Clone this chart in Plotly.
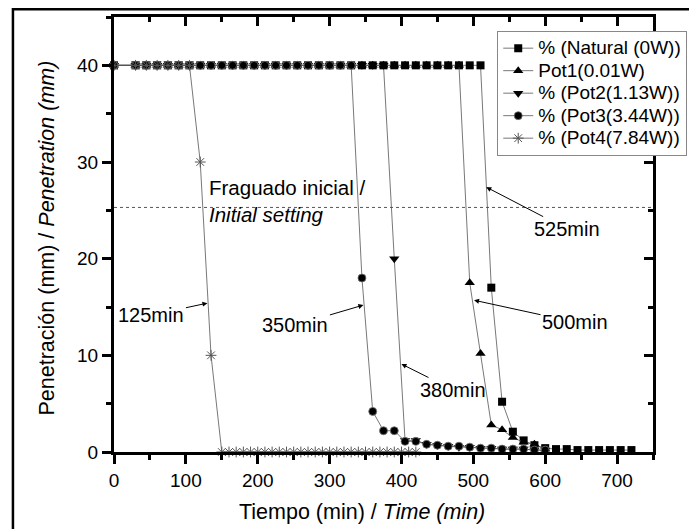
import plotly.graph_objects as go

# ---------------- data ----------------
t_nat = [0, 30, 45, 60, 75, 90, 105, 120, 135, 150, 165, 180, 195, 210, 225, 240, 255, 270, 285, 300,
         315, 330, 345, 360, 375, 390, 405, 420, 435, 450, 465, 480, 495, 510,
         525, 540, 555, 570, 585, 600, 615, 630, 645, 660, 675, 690, 705, 720]
p_nat = [40]*34 + [17, 5.2, 2.1, 1.2, 0.7, 0.4, 0.3, 0.3, 0.2, 0.2, 0.2, 0.2, 0.2, 0.2]

t_pot1 = [0, 30, 45, 60, 75, 90, 105, 120, 135, 150, 165, 180, 195, 210, 225, 240, 255, 270, 285, 300,
          315, 330, 345, 360, 375, 390, 405, 420, 435, 450, 465, 480,
          495, 510, 525, 540, 555, 570, 585, 600]
p_pot1 = [40]*32 + [17.5, 10.2, 2.8, 2.3, 1.5, 1.0, 0.8, 0.3]

t_pot2 = [0, 30, 45, 60, 75, 90, 105, 120, 135, 150, 165, 180, 195, 210, 225, 240, 255, 270, 285, 300,
          315, 330, 345, 360, 375,
          390, 405, 420, 435, 450, 465, 480, 495, 510, 525, 540, 555, 570, 585, 600]
p_pot2 = [40]*25 + [20, 1.2, 1.2, 0.8, 0.7, 0.6, 0.5, 0.5, 0.4, 0.4, 0.3, 0.3, 0.3, 0.2, 0.2]

t_pot3 = [0, 30, 45, 60, 75, 90, 105, 120, 135, 150, 165, 180, 195, 210, 225, 240, 255, 270, 285, 300,
          315, 330,
          345, 360, 375, 390, 405, 420, 435, 450, 465, 480, 495, 510, 525, 540, 555, 570, 585, 600]
p_pot3 = [40]*22 + [18, 4.2, 2.2, 2.2, 1.1, 1.1, 0.8, 0.7, 0.6, 0.6, 0.5, 0.4, 0.4, 0.3, 0.3, 0.3, 0.2, 0.2]

t_pot4 = [0, 30, 45, 60, 75, 90, 105, 120, 135,
          150, 160, 170, 180, 190, 200, 210, 220, 230, 240, 250, 260, 270, 280, 290, 300,
          310, 320, 330, 340, 350, 360, 370, 380, 390, 400, 410, 420]
p_pot4 = [40]*7 + [30, 10] + [0]*28

names = ["% (Natural (0W))", "Pot1(0.01W)", "% (Pot2(1.13W))", "% (Pot3(3.44W))", "% (Pot4(7.84W))"]

setting_level = 25.3
x_ticks = [0, 100, 200, 300, 400, 500, 600, 700]
y_ticks = [0, 10, 20, 30, 40]

# annotation labels: (text, tip x, tip y, ax px, ay px)
labels = [("125min", 130, 15.4, -56, 12),
          ("350min", 347, 15.2, -68, 20),
          ("380min", 400, 9.1, 52, 26),
          ("500min", 501, 15.7, 101, 22),
          ("525min", 518, 27.4, 81, 42)]

FONT = "Liberation Sans, Arial, sans-serif"
LINE = "#555555"

fig = go.Figure()

series = [
    (t_nat, p_nat, names[0], dict(symbol="square", size=8, color="black")),
    (t_pot1, p_pot1, names[1], dict(symbol="triangle-up", size=9, color="black")),
    (t_pot2, p_pot2, names[2], dict(symbol="triangle-down", size=9, color="black")),
    (t_pot3, p_pot3, names[3], dict(symbol="circle", size=8, color="black",
                                    line=dict(color="#777777", width=0.8))),
    (t_pot4, p_pot4, names[4], dict(symbol="asterisk-open", size=9, color="#555555",
                                    line=dict(color="#555555", width=1))),
]
for xs, ys, nm, mk in series:
    fig.add_trace(go.Scatter(x=xs, y=ys, name='<span style="font-size:19px">' + nm + '</span>',
                             mode="lines+markers",
                             line=dict(color=LINE, width=0.8), marker=mk,
                             cliponaxis=False))

# empty trace so the mirrored (top/right) axes get drawn
fig.add_trace(go.Scatter(x=[], y=[], xaxis="x2", yaxis="y2", showlegend=False, hoverinfo="skip"))

# threshold line
fig.add_shape(type="line", xref="paper", yref="y", x0=0, x1=1, y0=setting_level, y1=setting_level,
              line=dict(color="#555555", width=1, dash="dot"))

# outer frame
fig.add_shape(type="rect", xref="paper", yref="paper", x0=-0.1875, x1=1.2, y0=-0.4, y1=1.018,
              line=dict(color="black", width=2.5), layer="below")

fig.add_annotation(x=129, y=26.0, xref="x", yref="y", xanchor="left", yanchor="middle",
                   text="Fraguado inicial /<br><i>Initial setting</i>", showarrow=False,
                   align="left", font=dict(family=FONT, size=20.5, color="black"))

for txt, tx, ty, ax, ay in labels:
    fig.add_annotation(x=tx, y=ty, xref="x", yref="y", text=txt, showarrow=True,
                       ax=ax, ay=ay, arrowhead=2, arrowsize=1, arrowwidth=1, arrowcolor="black",
                       font=dict(family=FONT, size=20, color="black"))

# axis titles
fig.add_annotation(x=0.4605, y=-0.138, xref="paper", yref="paper", showarrow=False,
                   xanchor="center", yanchor="middle",
                   text="Tiempo (min) / <i>Time (min)</i>",
                   font=dict(family=FONT, size=21.5, color="black"))
fig.add_annotation(x=-0.1244, y=0.493, xref="paper", yref="paper", showarrow=False,
                   xanchor="center", yanchor="middle", textangle=-90,
                   text="Penetración (mm) / <i>Penetration (mm)</i>",
                   font=dict(family=FONT, size=21.5, color="black"))

axis_common = dict(showline=True, linecolor="black", linewidth=3, showgrid=False, zeroline=False,
                   tickcolor="black", tickwidth=3, ticklen=9,
                   tickfont=dict(family=FONT, size=19, color="black"))

mirror_common = dict(showticklabels=False, showline=True, linecolor="black", linewidth=3,
                     tickcolor="black", tickwidth=3, ticklen=9, showgrid=False, zeroline=False,
                     ticks="inside")

fig.update_layout(
    width=689, height=521,
    margin=dict(l=106, r=44, t=9, b=77),
    paper_bgcolor="white", plot_bgcolor="white",
    font=dict(family=FONT, color="black"),
    xaxis=dict(range=[0, 750], tickvals=x_ticks, ticks="outside",
               minor=dict(dtick=50, ticks="outside", ticklen=5, tickwidth=3, tickcolor="black"),
               **axis_common),
    yaxis=dict(range=[0, 45], tickvals=y_ticks, ticks="outside",
               minor=dict(dtick=5, ticks="outside", ticklen=5, tickwidth=3, tickcolor="black"),
               **axis_common),
    xaxis2=dict(overlaying="x", anchor="y2", side="top", range=[0, 750], tickvals=x_ticks,
                minor=dict(dtick=50, ticks="inside", ticklen=5, tickwidth=3, tickcolor="black"),
                **mirror_common),
    yaxis2=dict(overlaying="y", anchor="x2", side="right", range=[0, 45], tickvals=y_ticks,
                minor=dict(dtick=5, ticks="inside", ticklen=5, tickwidth=3, tickcolor="black"),
                **mirror_common),
    legend=dict(x=0.711, y=0.968, xanchor="left", yanchor="top",
                bgcolor="white", bordercolor="#888888", borderwidth=1,
                font=dict(family=FONT, size=15, color="black"), itemwidth=30),
    showlegend=True,
)

fig.write_html("out.html")
